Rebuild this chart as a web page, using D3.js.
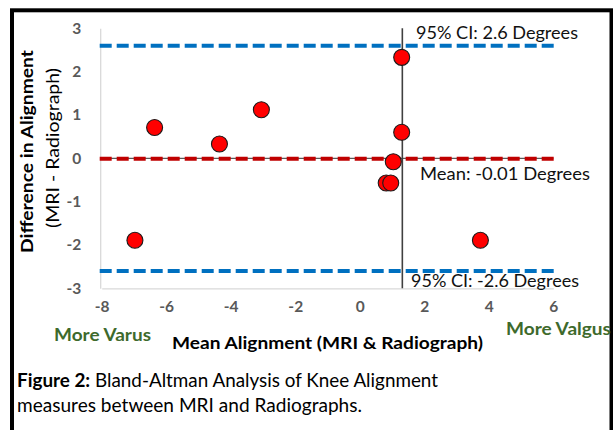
<!DOCTYPE html>
<html>
<head>
<meta charset="utf-8">
<script src="https://cdn.jsdelivr.net/npm/d3@7"></script>
<style>
  html, body { margin: 0; padding: 0; background: #fff; }
  svg { display: block; }
  text { font-family: Lato, "Open Sans", sans-serif; }
</style>
</head>
<body>
<svg id="chart" width="613" height="430"></svg>
<script>
// Bland-Altman: mean of the two measures vs. their difference (degrees)
const meanAlignment = [-6.97, -6.36, -4.35, -3.05, 1.30, 1.30, 1.04, 0.82, 0.96, 3.74];
const difference    = [-1.89, 0.71, 0.33, 1.12, 2.33, 0.60, -0.08, -0.57, -0.57, -1.89];

const meanDiff = -0.01;
const upperLimit = 2.6;
const lowerLimit = -2.6;
const referenceX = 1.32;

const xTicks = [-8, -6, -4, -2, 0, 2, 4, 6];
const yTicks = [-3, -2, -1, 0, 1, 2, 3];

const svg = d3.select("#chart");

const x = d3.scaleLinear().domain([-8, 6]).range([101.7, 553.3]);
const y = d3.scaleLinear().domain([-3, 3]).range([288.3, 28.3]);

// plain hyphen for negative tick values
const fmt = d => String(d);

// outer frame
svg.append("rect")
  .attr("x", 12).attr("y", 10.3)
  .attr("width", 599.5).attr("height", 440)
  .attr("fill", "none").attr("stroke", "#000").attr("stroke-width", 4);

// y axis
const yAxis = svg.append("g")
  .attr("transform", `translate(${x(-8) - 1.5},0)`)
  .call(d3.axisLeft(y).tickValues(yTicks).tickSize(0).tickPadding(19).tickFormat(fmt));
yAxis.select(".domain").attr("stroke", "#d9d9d9").attr("stroke-width", 1.3);
yAxis.selectAll("text")
  .attr("fill", "#595959").attr("font-size", 15.5).attr("font-weight", "bold")
  .style("font-family", "Lato, sans-serif");

// x axis
const xAxis = svg.append("g")
  .attr("transform", `translate(0,${y(-3)})`)
  .call(d3.axisBottom(x).tickValues(xTicks).tickSize(0).tickPadding(18).tickFormat(fmt));
xAxis.select(".domain").attr("stroke", "#d9d9d9").attr("stroke-width", 1.3);
xAxis.selectAll("text")
  .attr("fill", "#595959").attr("font-size", 15.5).attr("font-weight", "bold")
  .attr("dy", "0.35em")
  .style("font-family", "Lato, sans-serif");

// zero line
svg.append("line")
  .attr("x1", x(-8)).attr("x2", x(6))
  .attr("y1", y(0)).attr("y2", y(0))
  .attr("stroke", "#595959").attr("stroke-width", 1.3);

// vertical reference line
svg.append("line")
  .attr("x1", x(referenceX)).attr("x2", x(referenceX))
  .attr("y1", y(3)).attr("y2", y(-3))
  .attr("stroke", "#404040").attr("stroke-width", 1.6);

// limits of agreement and mean difference
const hLines = [
  { v: upperLimit, c: "#0070C0" },
  { v: lowerLimit, c: "#0070C0" },
  { v: meanDiff, c: "#C00000" }
];
svg.selectAll(".hline").data(hLines).join("line")
  .attr("class", "hline")
  .attr("x1", x(-8) - 2).attr("x2", x(6) + 3)
  .attr("y1", d => y(d.v)).attr("y2", d => y(d.v))
  .attr("stroke", d => d.c).attr("stroke-width", 4)
  .attr("stroke-dasharray", "12,5");

// points
svg.selectAll(".pt").data(meanAlignment.map((m, i) => [m, difference[i]])).join("circle")
  .attr("class", "pt")
  .attr("cx", d => x(d[0])).attr("cy", d => y(d[1]))
  .attr("r", 8)
  .attr("fill", "#FF0000").attr("stroke", "#1a1a1a").attr("stroke-width", 1.1);

// line annotations
const note = (txt, tx, ty, w) => svg.append("text")
  .attr("x", tx).attr("y", ty).attr("font-size", 17).attr("fill", "#111")
  .attr("textLength", w).attr("lengthAdjust", "spacingAndGlyphs")
  .text(txt);
note("95% CI: 2.6 Degrees", 416, 38.5, 162);
note("Mean: -0.01 Degrees", 420, 180, 170);
note("95% CI: -2.6 Degrees", 411, 287, 168);

// axis titles
svg.append("text")
  .attr("x", 172).attr("y", 348.5)
  .attr("font-size", 17).attr("font-weight", "bold").attr("fill", "#000")
  .attr("textLength", 311).attr("lengthAdjust", "spacingAndGlyphs")
  .text("Mean Alignment (MRI & Radiograph)");

svg.append("text")
  .attr("x", 54).attr("y", 340.5)
  .attr("font-size", 16.5).attr("font-weight", "bold").attr("fill", "#3E6A2C")
  .attr("textLength", 97).attr("lengthAdjust", "spacingAndGlyphs")
  .text("More Varus");

svg.append("text")
  .attr("x", 506).attr("y", 335)
  .attr("font-size", 16.5).attr("font-weight", "bold").attr("fill", "#3E6A2C")
  .attr("textLength", 105).attr("lengthAdjust", "spacingAndGlyphs")
  .text("More Valgus");

svg.append("text")
  .attr("transform", "translate(33,151.5) rotate(-90)")
  .attr("text-anchor", "middle")
  .attr("font-size", 17.5).attr("font-weight", "bold").attr("fill", "#000")
  .attr("textLength", 203).attr("lengthAdjust", "spacingAndGlyphs")
  .text("Difference in Alignment");

svg.append("text")
  .attr("transform", "translate(58.5,148) rotate(-90)")
  .attr("text-anchor", "middle")
  .attr("font-size", 17).attr("fill", "#000")
  .attr("textLength", 160).attr("lengthAdjust", "spacingAndGlyphs")
  .text("(MRI - Radiograph)");

// caption
const cap1 = svg.append("text")
  .attr("x", 17).attr("y", 386.7)
  .attr("font-size", 19.5).attr("fill", "#000")
  .attr("textLength", 421).attr("lengthAdjust", "spacingAndGlyphs");
cap1.append("tspan").attr("font-weight", "bold").text("Figure 2:");
cap1.append("tspan").text(" Bland-Altman Analysis of Knee Alignment");

svg.append("text")
  .attr("x", 17).attr("y", 411.7)
  .attr("font-size", 19.5).attr("fill", "#000")
  .attr("textLength", 345).attr("lengthAdjust", "spacingAndGlyphs")
  .text("measures between MRI and Radiographs.");
</script>
</body>
</html>
